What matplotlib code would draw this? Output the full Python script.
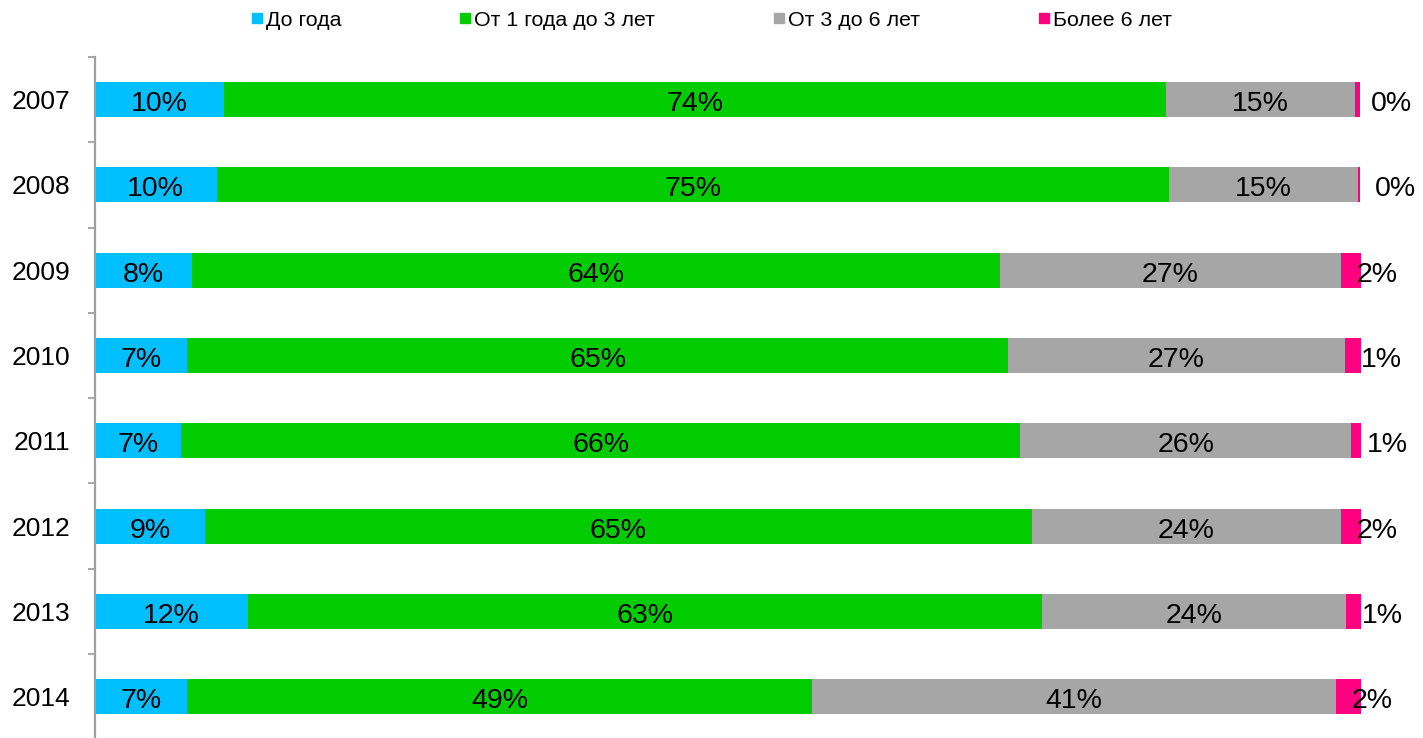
import matplotlib
matplotlib.use("Agg")
import matplotlib.pyplot as plt
from matplotlib.lines import Line2D
import numpy as np

plt.rcParams['font.family'] = ['Liberation Sans', 'DejaVu Sans']

# данные (доли в %, по годам сверху вниз)
years = ['2007', '2008', '2009', '2010', '2011', '2012', '2013', '2014']
series_names = ['До года', 'От 1 года до 3 лет', 'От 3 до 6 лет', 'Более 6 лет']
up_to_1 = [10.2, 9.6, 7.7, 7.3, 6.8, 8.7, 12.1, 7.3]
from_1_to_3 = [74.4, 75.2, 63.8, 64.8, 66.3, 65.3, 62.7, 49.3]
from_3_to_6 = [14.9, 15.0, 26.9, 26.6, 26.1, 24.4, 24.0, 41.4]
over_6 = [0.45, 0.15, 1.6, 1.3, 0.9, 1.6, 1.2, 2.0]
colors = ['#00BFFF', '#00CC00', '#A6A6A6', '#FF0080']

fig = plt.figure(figsize=(14.23, 7.38), dpi=100)
ax = fig.add_axes([95 / 1423, -1.4 / 738, 1266 / 1423, 682.4 / 738])

y = np.arange(len(years))
left = np.zeros(len(years))
all_series = [up_to_1, from_1_to_3, from_3_to_6, over_6]
for i, (vals, col) in enumerate(zip(all_series, colors)):
    vals = np.array(vals)
    ax.barh(y, vals, left=left, height=0.41, color=col, edgecolor='none')
    for yi, lo, v in zip(y, left, vals):
        txt = f"{int(round(v))}%"
        # базовая линия чуть ниже центра, чтобы цифры были по центру полосы
        if i == 3:
            # последний сегмент слишком узкий — подпись справа
            ax.text(lo + 2.9, yi + 0.135, txt, ha='center', va='baseline',
                    fontsize=20.5, color='black', clip_on=False)
        else:
            ax.text(lo + v / 2, yi + 0.135, txt, ha='center', va='baseline',
                    fontsize=20.5, color='black')
    left = left + vals

ax.set_xlim(0, 100)
ax.set_ylim(len(years) - 0.5, -0.5)
ax.set_yticks(y)
ax.set_yticklabels(years, fontsize=19)
ax.set_yticks(np.arange(len(years) + 1) - 0.5, minor=True)
ax.tick_params(axis='y', which='major', length=0, pad=18)
ax.tick_params(axis='y', which='minor', length=5, width=1.3, color='#A0A0A0')
ax.set_xticks([])
for s in ['top', 'right', 'bottom']:
    ax.spines[s].set_visible(False)
ax.spines['left'].set_color('#A0A0A0')
ax.spines['left'].set_linewidth(1.6)

handles = [Line2D([], [], marker='s', linestyle='none', markersize=7.5,
                  markerfacecolor=c, markeredgecolor=c) for c in colors]
fig.legend(handles, series_names, loc='center', bbox_to_anchor=(0.5, 1 - 20 / 738),
           ncol=4, frameon=False, fontsize=15.4, handlelength=0.55,
           handletextpad=0.15, columnspacing=5.5)

fig.savefig('out.png', dpi=100)
